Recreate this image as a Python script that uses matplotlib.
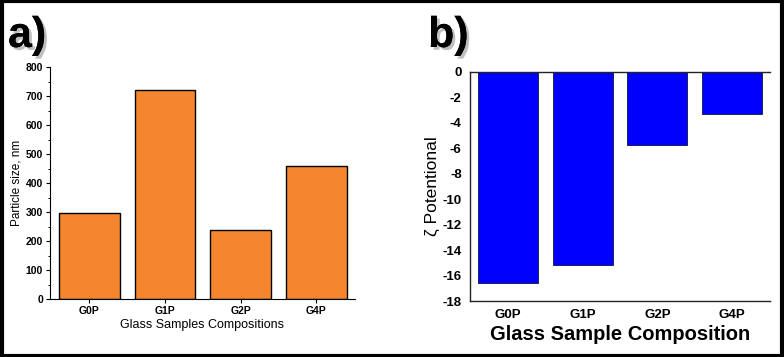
import matplotlib
matplotlib.use("Agg")
import matplotlib.pyplot as plt
import matplotlib.patheffects as pe
from matplotlib.patches import Rectangle
from matplotlib.ticker import MultipleLocator

# data
samples = ["G0P", "G1P", "G2P", "G4P"]
particle_size = [295, 720, 237, 460]
zeta_potential = [-16.6, -15.2, -5.7, -3.3]

W, H = 784, 357
fig = plt.figure(figsize=(W / 100, H / 100), dpi=100)
plt.rcParams['font.family'] = ['Liberation Sans', 'DejaVu Sans']


def box(l, r, t, b):
    return [l / W, 1 - b / H, (r - l) / W, (b - t) / H]


# ---- panel a ----
ax1 = fig.add_axes(box(50, 355, 67, 299))
x = range(len(samples))
ax1.bar(x, particle_size, width=0.8, color="#F5862E", edgecolor="black", linewidth=1.0)
ax1.set_ylim(0, 800)
ax1.set_xlim(-0.52, 3.51)
ax1.yaxis.set_major_locator(MultipleLocator(100))
ax1.yaxis.set_minor_locator(MultipleLocator(50))
ax1.set_xticks(list(x))
ax1.set_xticklabels(samples, fontsize=7.5, fontweight="bold")
for lab in ax1.get_yticklabels():
    lab.set_fontsize(7.5)
    lab.set_fontweight("bold")
ax1.tick_params(axis="both", which="major", direction="out", length=3, width=0.8, pad=2)
ax1.tick_params(axis="y", which="minor", direction="out", length=1.8, width=0.7)
ax1.spines["top"].set_visible(False)
ax1.spines["right"].set_visible(False)
ax1.set_ylabel("Particle size, nm", fontsize=8.5, labelpad=2)
ax1.set_xlabel("Glass Samples Compositions", fontsize=9, labelpad=2)

# ---- panel b ----
ax2 = fig.add_axes(box(470, 770, 72, 301))
ax2.bar(x, zeta_potential, width=0.8, color="#0000FF", edgecolor="#101040", linewidth=0.6)
ax2.set_ylim(-18, 0)
ax2.set_xlim(-0.51, 3.51)
ax2.set_yticks(range(-18, 1, 2))
ax2.set_yticklabels([str(v) for v in range(-18, 1, 2)], fontsize=9.5, fontweight="bold")
ax2.set_xticks(list(x))
ax2.set_xticklabels(samples, fontsize=9.5, fontweight="bold")
ax2.tick_params(axis="both", length=0, pad=6)
ax2.spines["right"].set_visible(False)
for s in ["left", "top", "bottom"]:
    ax2.spines[s].set_linewidth(1.0)
    ax2.spines[s].set_color("#222222")
ax2.set_ylabel("\u03b6 Potentional", fontsize=12.5, labelpad=2)
ax2.set_xlabel("Glass Sample Composition", fontsize=14.5, fontweight="bold", labelpad=3)

# panel letters with shadow
shadow = [pe.withSimplePatchShadow(offset=(2, -2), shadow_rgbFace="gray", alpha=0.5), pe.Normal()]
fig.text(8 / W, 1 - 47 / H, "a)", fontsize=31, fontweight="bold", path_effects=shadow)
fig.text(428 / W, 1 - 47 / H, "b)", fontsize=31, fontweight="bold", path_effects=shadow)

# outer frame
fig.patches.append(Rectangle((0.002, 0.004), 0.996, 0.992, transform=fig.transFigure,
                             fill=False, edgecolor="black", linewidth=3))

fig.savefig("out.png", dpi=100)
